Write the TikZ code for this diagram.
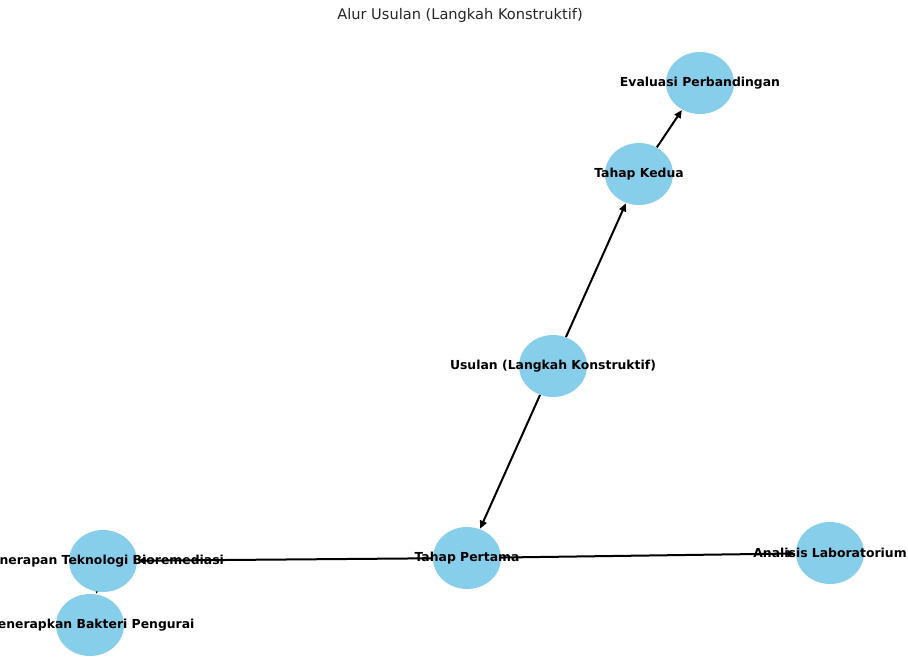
\documentclass[tikz,border=0pt]{standalone}
\usepackage{fontspec}
\setmainfont{DejaVu Sans}
\usetikzlibrary{shapes.geometric,arrows.meta,backgrounds}
\definecolor{skyblue}{HTML}{87CEEB}
\tikzset{
  dot/.style={ellipse, fill=skyblue, draw=none, minimum width=68pt, minimum height=62pt, inner sep=0pt},
  lbl/.style={font=\fontsize{12.4}{14}\selectfont\bfseries, inner sep=0pt, text=black},
  edge/.style={draw=black, line width=2pt, -{Triangle[length=8pt,width=7pt]}, shorten >=0.5pt},
  ttl/.style={font=\fontsize{14.6}{17}\selectfont, text=black!85, inner sep=0pt}
}
\begin{document}
\begin{tikzpicture}[x=1pt,y=-1pt]
\useasboundingbox (0,0) rectangle (908,657);
\clip (0,0) rectangle (908,657);
\node[ttl] (title) at (460,15) {Alur Usulan (Langkah Konstruktif)};
% nodes
\node[dot] (u) at (553,366) {};
\node[dot] (p1) at (467,558) {};
\node[dot] (k2) at (639,174) {};
\node[dot] (ev) at (700,83) {};
\node[dot] (al) at (830,553) {};
\node[dot] (pb) at (103,561) {};
\node[dot] (mb) at (90,625) {};
% labels
\node[lbl] (ut) at (u) {Usulan (Langkah Konstruktif)};
\node[lbl] (p1t) at (p1) {Tahap Pertama};
\node[lbl] (k2t) at (k2) {Tahap Kedua};
\node[lbl] (evt) at (ev) {Evaluasi Perbandingan};
\node[lbl] (alt) at (al) {Analisis Laboratorium};
\node[lbl] (pbt) at (pb) {Penerapan Teknologi Bioremediasi};
\node[lbl] (mbt) at (mb) {Menerapkan Bakteri Pengurai};
% edges
\begin{scope}[on background layer]
\fill[white] (0,0) rectangle (908,657);
\draw[edge] (u) -- (p1);
\draw[edge] (u) -- (k2);
\draw[edge] (k2) -- (ev);
\draw[edge] (p1) -- (al);
\draw[edge] (p1) -- (pb);
\draw[edge] (pb) -- (mb);
\end{scope}
\end{tikzpicture}
\end{document}
